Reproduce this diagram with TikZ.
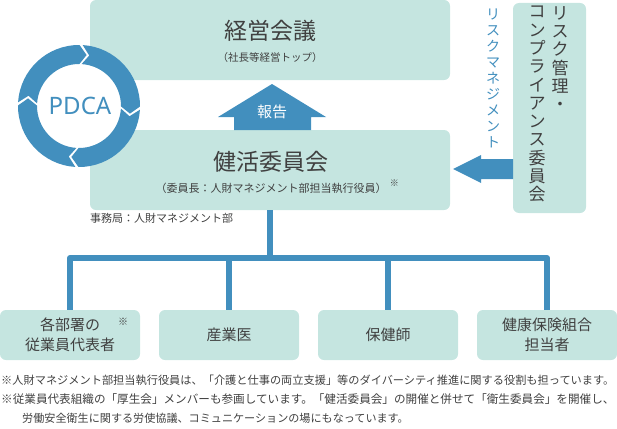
\documentclass[tikz,border=0pt]{standalone}
\usepackage{fontspec}
\setmainfont{Noto Sans CJK JP}
\newfontfamily\latinfont{Noto Sans}
\usetikzlibrary{positioning}
\definecolor{boxteal}{HTML}{C5E5E0}
\definecolor{pdcablue}{HTML}{428FBE}
\definecolor{txtgray}{HTML}{404040}
\newcommand{\fs}[2]{\fontsize{#1}{#2}\selectfont}

\begin{document}
\begin{tikzpicture}[x=1pt,y=-1pt,
  box/.style={fill=boxteal, rounded corners=6pt, inner sep=0pt},
  tree/.style={pdcablue, line width=6pt, line join=round},
  jp/.style={text=txtgray, inner sep=0pt}]
\useasboundingbox (0,0) rectangle (617,428);

% committees
\node[box, minimum width=360pt, minimum height=80pt] (keiei) at (270,40) {};
\node[box, minimum width=360pt, minimum height=80pt] (kenkatsu) at (270,170) {};
\node[box, minimum width=73pt, minimum height=210pt] (risk) at (549.5,108) {};

\node[jp, font=\fs{23}{23}] (keieiT) at (270,31) {経営会議};
\node[jp, font=\fs{10.5}{11}] (keieiS) at (270,58) {（社長等経営トップ）};
\node[jp, font=\fs{23}{23}] (kenT) at (271,162) {健活委員会};
\node[jp, font=\fs{11}{11}] (kenS) at (271,188) {（委員長：人財マネジメント部担当執行役員）};
\node[jp, font=\fs{9}{9}, right=3pt of kenS, yshift=5pt] (kenMark) {※};
\node[jp, font=\fs{11}{11}, below right=3pt and 0pt of kenkatsu.south west] (office) {事務局：人財マネジメント部};

\node[jp, font=\fs{17}{18.3}, align=center, anchor=north] (riskA) at (560,6) {リ\\ス\\ク\\管\\理\\・};
\node[jp, font=\fs{17}{18.3}, align=center, anchor=north] (riskB) at (537,6) {コ\\ン\\プ\\ラ\\イ\\ア\\ン\\ス\\委\\員\\会};
\node[text=pdcablue, inner sep=0pt, font=\fs{14}{16}, align=center, anchor=north] (rmLabel) at (493,9) {リ\\ス\\ク\\マ\\ネ\\ジ\\メ\\ン\\ト};

% report arrow and risk arrow
\fill[pdcablue] (272,84) -- (326,117) -- (311,117) -- (311,130) -- (234,130) -- (234,117) -- (218,117) -- cycle;
\node[text=white, inner sep=0pt, font=\fs{15}{15}] (houkoku) at (272,112) {報告};
\fill[pdcablue] (453,169) -- (481,155) -- (481,159) -- (513,159) -- (513,179) -- (481,179) -- (481,183) -- cycle;

% PDCA cycle
\begin{scope}[shift={(79,106)}, yscale=-1]
\fill[white] (0,0) circle (42);
\foreach \g in {88,-2,-92,178} {
  \pgfmathsetmacro\s{\g-1.5}
  \pgfmathsetmacro\e{\g-88.5}
  \fill[pdcablue] (\s:61) arc[start angle=\s, end angle=\e, radius=61] -- ({\e-8}:51.5) -- (\e:42)
    arc[start angle=\e, end angle=\s, radius=42] -- ({\s-8}:51.5) -- cycle;
}
\end{scope}
\node[text=pdcablue, inner sep=0pt, font=\latinfont\fs{24}{24}] (pdca) at (80,106) {PDCA};

% members
\node[box, minimum width=140pt, minimum height=50pt, align=center, text=txtgray, font=\fs{15}{20}] (b1) at (70,335) {各部署の\\従業員代表者};
\node[box, minimum width=140pt, minimum height=50pt, align=center, text=txtgray, font=\fs{15}{20}] (b2) at (229,335) {産業医};
\node[box, minimum width=140pt, minimum height=50pt, align=center, text=txtgray, font=\fs{15}{20}] (b3) at (388,335) {保健師};
\node[box, minimum width=140pt, minimum height=50pt, align=center, text=txtgray, font=\fs{15}{20}] (b4) at (547,335) {健康保険組合\\担当者};
\node[jp, font=\fs{10}{10}] (b1Mark) at (123,322) {※};

\coordinate (hub) at (270,258);
\draw[tree] (kenkatsu.south) -- (hub);
\draw[tree] (b1.north) |- (hub) -| (b4.north);
\foreach \b in {b2,b3}
  \draw[tree] (\b.north) -- (\b.north |- hub);

% notes
\node[jp, anchor=west, font=\fs{11.2}{11.2}] (note1) at (1,380) {※人財マネジメント部担当執行役員は、「介護と仕事の両立支援」等のダイバーシティ推進に関する役割も担っています。};
\node[jp, anchor=west, font=\fs{11.6}{11.6}] (note2) at (1,399) {※従業員代表組織の「厚生会」メンバーも参画しています。「健活委員会」の開催と併せて「衛生委員会」を開催し、};
\node[jp, anchor=west, font=\fs{11.1}{11.1}] (note3) at (22,418) {労働安全衛生に関する労使協議、コミュニケーションの場にもなっています。};
\end{tikzpicture}
\end{document}
